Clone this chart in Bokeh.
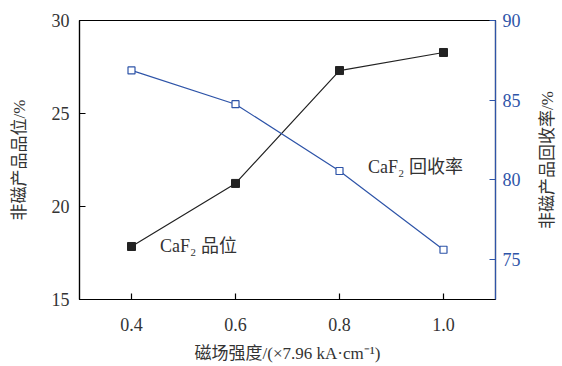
import math
from bokeh.plotting import figure
from bokeh.layouts import row
from bokeh.models import LinearAxis, Range1d, FixedTicker, Label, CustomJSTickFormatter
from bokeh.embed import file_html
from bokeh.resources import INLINE

field = [0.4, 0.6, 0.8, 1.0]
grade = [17.85, 21.24, 27.31, 28.28]
recovery = [86.87, 84.75, 80.56, 75.62]
x_ticks = [0.4, 0.6, 0.8, 1.0]
left_ticks = [15, 20, 25, 30]
right_ticks = [75, 80, 85, 90]

BLUE = "#2e54a8"
FONT = "Liberation Serif, Noto Sans CJK SC"

p = figure(frame_width=416, frame_height=279, output_backend="svg", toolbar_location=None,
           x_range=Range1d(0.3, 1.1), y_range=Range1d(15, 30),
           min_border_left=79, min_border_right=37, min_border_top=20, min_border_bottom=59)
p.grid.visible = False
p.outline_line_color = "black"
p.outline_line_width = 1.2
p.background_fill_color = "white"
p.border_fill_color = "white"

p.extra_y_ranges = {"rec": Range1d(72.5, 90)}
ax_r = LinearAxis(y_range_name="rec")
p.add_layout(ax_r, "right")

for ax in [p.xaxis[0], p.yaxis[0], ax_r]:
    ax.major_tick_in = 6
    ax.major_tick_out = 0
    ax.minor_tick_line_color = None
    ax.major_label_text_font = FONT
    ax.major_label_text_font_size = "18px"
    ax.axis_label_text_font = FONT
    ax.axis_label_text_font_size = "17px"
    ax.axis_label_text_font_style = "normal"
    ax.axis_label_text_color = "#333333"
    ax.major_label_text_color = "#333333"
    ax.axis_line_width = 1.2
    ax.major_tick_line_width = 1.2

p.xaxis[0].ticker = FixedTicker(ticks=x_ticks)
p.xaxis[0].formatter = CustomJSTickFormatter(code="return tick.toFixed(1);")
p.xaxis[0].axis_label = "磁场强度/(×7.96 kA·cm⁻¹)"
p.xaxis[0].major_label_standoff = 18
p.xaxis[0].axis_label_standoff = 10
p.yaxis[0].ticker = FixedTicker(ticks=left_ticks)
p.yaxis[0].axis_label = "非磁产品品位/%"
p.yaxis[0].major_label_standoff = 10
p.yaxis[0].axis_label_standoff = 20
ax_r.ticker = FixedTicker(ticks=right_ticks)
ax_r.axis_line_color = BLUE
ax_r.major_tick_line_color = BLUE
ax_r.major_label_text_color = BLUE
ax_r.major_label_standoff = 7

p.line(field, grade, line_color="#222222", line_width=1.2)
p.scatter(field, grade, marker="square", size=8, fill_color="#222222", line_color="#222222")
p.line(field, recovery, y_range_name="rec", line_color=BLUE, line_width=1.2)
p.scatter(field, recovery, y_range_name="rec", marker="square", size=7,
          fill_color="white", line_color=BLUE, line_width=1.2)

p.add_layout(Label(x=0.455, y=17.85, text="CaF₂ 品位", text_font=FONT, text_font_size="18px",
                   text_color="#333333", text_baseline="middle"))
p.add_layout(Label(x=0.855, y=80.8, y_range_name="rec", text="CaF₂ 回收率", text_font=FONT,
                   text_font_size="18px", text_color="#333333", text_baseline="middle"))

# narrow companion panel holding the right-hand axis title (reads bottom-to-top)
p2 = figure(frame_width=30, frame_height=279, output_backend="svg", toolbar_location=None,
            x_range=Range1d(0, 1), y_range=Range1d(0, 1), x_axis_type=None, y_axis_type=None,
            min_border_left=0, min_border_right=0, min_border_top=20, min_border_bottom=59)
p2.grid.visible = False
p2.outline_line_color = None
p2.background_fill_color = "white"
p2.border_fill_color = "white"
p2.add_layout(Label(x=0.5, y=0.5, text="非磁产品回收率/%", angle=math.pi / 2, text_font=FONT,
                    text_font_size="17px", text_color="#333333",
                    text_align="center", text_baseline="middle"))

layout = row(p, p2, spacing=0)
open("out.html", "w").write(file_html(layout, INLINE))
